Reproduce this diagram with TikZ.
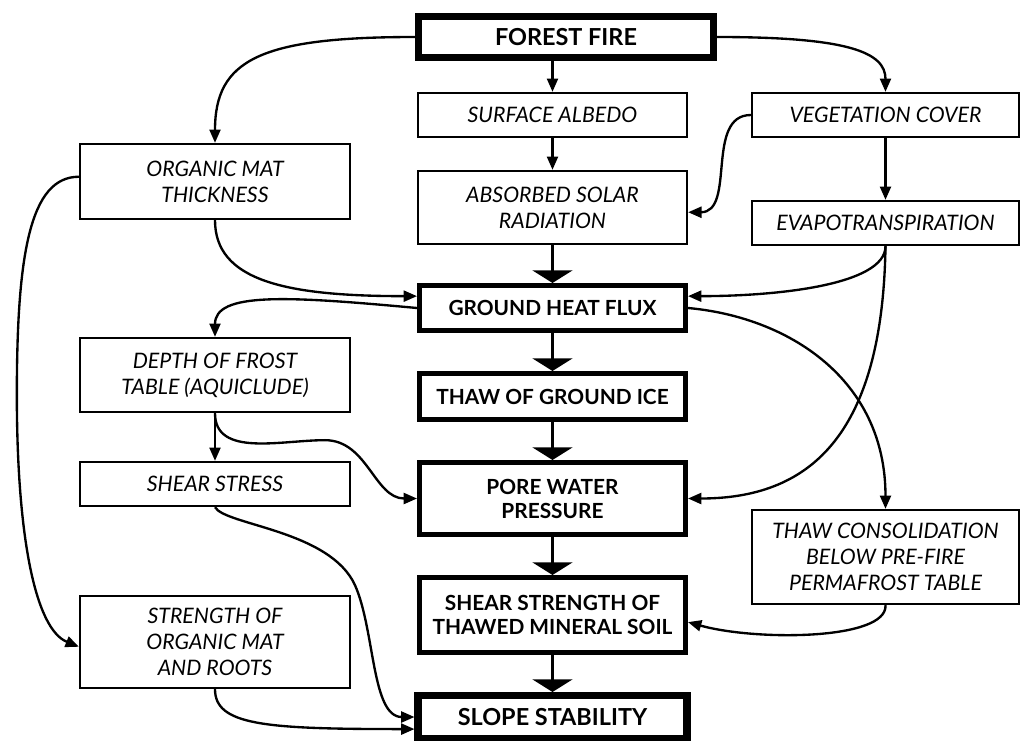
\documentclass[tikz,border=0pt]{standalone}
\usepackage{fontspec}
\setmainfont{Lato}
\usetikzlibrary{arrows.meta}

\begin{document}
\begin{tikzpicture}[x=0.3mm,y=-0.3mm,>={Triangle[length=4mm,width=3.3mm]},
  factor/.style={draw,line width=1.7pt,align=center,font=\fontsize{18.2}{22}\selectfont\itshape,minimum height=13.3mm},
  effect/.style={draw,line width=4.3pt,align=center,font=\fontsize{17.8}{20.5}\selectfont\bfseries,minimum width=79.8mm},
  terminal/.style={draw,line width=6pt,align=center,font=\fontsize{20}{24}\selectfont\bfseries},
  link/.style={->,line width=2pt},
  flow/.style={-{Triangle[length=3.8mm,width=12mm]},line width=2pt}]
\useasboundingbox (0,0) rectangle (1024,740);

\node[terminal,minimum width=88.5mm,minimum height=12.3mm] (fire) at (566,37) {FOREST FIRE};
\node[factor,minimum width=80.8mm] (albedo) at (552.5,115) {SURFACE ALBEDO};
\node[factor,minimum width=80.2mm] (veg) at (885.5,115) {VEGETATION COVER};
\node[factor,minimum width=81.1mm,minimum height=22.6mm] (mat) at (215,181.5) {ORGANIC MAT\\THICKNESS};
\node[factor,minimum width=80.8mm,minimum height=22mm] (solar) at (552.5,207.5) {ABSORBED SOLAR\\RADIATION};
\node[factor,minimum width=80.2mm] (evapo) at (885.5,223) {EVAPOTRANSPIRATION};
\node[effect,minimum height=13.5mm] (flux) at (552.5,308) {GROUND HEAT FLUX};
\node[factor,minimum width=81.1mm,minimum height=22.3mm] (frost) at (215,375) {DEPTH OF FROST\\TABLE (AQUICLUDE)};
\node[effect,minimum height=13.8mm] (ice) at (552.5,396.5) {THAW OF GROUND ICE};
\node[factor,minimum width=81.1mm] (stress) at (215,484) {SHEAR STRESS};
\node[effect,minimum height=21.6mm] (pore) at (552.5,498.5) {PORE WATER\\PRESSURE};
\node[factor,minimum width=80.2mm,minimum height=28.3mm] (consol) at (885.5,557) {THAW CONSOLIDATION\\BELOW PRE-FIRE\\PERMAFROST TABLE};
\node[effect,minimum height=22.5mm] (strength) at (552.5,615) {SHEAR STRENGTH OF\\THAWED MINERAL SOIL};
\node[factor,minimum width=81.1mm,minimum height=27.7mm] (roots) at (215,642) {STRENGTH OF\\ORGANIC MAT\\AND ROOTS};
\node[terminal,minimum width=80.7mm,minimum height=12.9mm] (slope) at (552.5,717) {SLOPE STABILITY};

\draw[link] (fire.south -| albedo.north) -- (albedo.north);
\draw[link] (albedo) -- (solar);
\draw[link] (veg) -- (evapo);
\draw[link] (frost) -- (stress);
\draw[flow] (solar) -- (flux);
\draw[flow] (flux) -- (ice);
\draw[flow] (ice) -- (pore);
\draw[flow] (pore) -- (strength);
\draw[flow] (strength) -- (slope);

\draw[link] (fire.west) .. controls +(-155,0) and +(0,-83) .. (mat.north);
\draw[link] (fire.east) .. controls +(130,0) and +(0,-40) .. (veg.north);
\draw[link] (veg.west) .. controls +(-46,0) and +(48,0) .. (solar.-2);
\draw[link] (mat.south) .. controls +(0,60) and +(-133,0) .. (flux.175);
\draw[link] (evapo.south) .. controls +(0,39) and +(88,0) .. (flux.5);
\draw[link] (evapo.south) .. controls +(-3,194) and +(118,0) .. (pore.east);
\draw[link] (flux.west) .. controls +(-130,-12) and +(0,-45) .. (frost.north);
\draw[link] (flux.east) .. controls +(100,9) and +(0,-130) .. (consol.north);
\draw[link] (frost.south) to[out=-90,in=180] ++(110,27) to[out=0,in=180] (pore.west);
\draw[link] (stress.south) .. controls +(10,18) and +(-25,-55) .. ++(140,78)
  .. controls +(20,45) and +(-43,0) .. (slope.west);
\draw[link] (roots.south) .. controls +(0,36) and +(-150,0) .. (slope.185);
\draw[link] (mat.178) .. controls +(-49,0) and +(0,-140) .. ++(-62,218)
  .. controls +(0,140) and +(-44,-18) .. (roots.182);
\draw[link] (consol.south) .. controls +(2,35) and +(68,19) .. (strength.-3);
\end{tikzpicture}
\end{document}
